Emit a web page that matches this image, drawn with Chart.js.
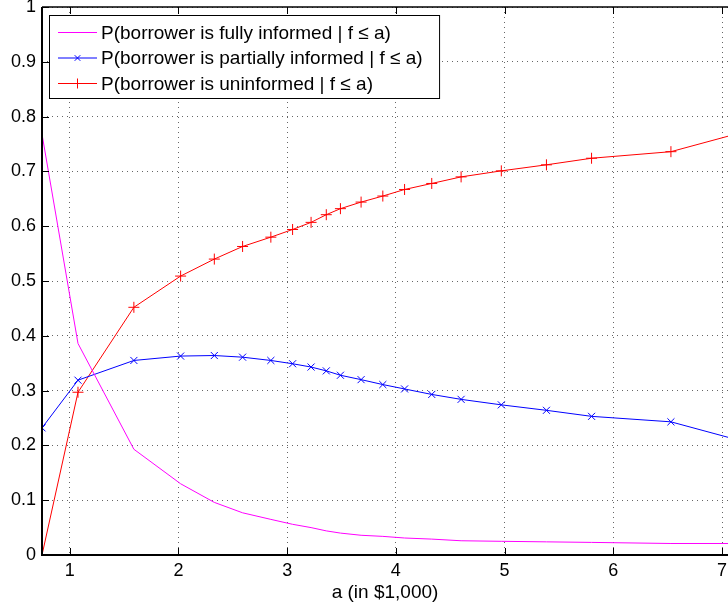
<!DOCTYPE html>
<html>
<head>
<meta charset="utf-8">
<script src="https://cdn.jsdelivr.net/npm/chart.js@4.4.0/dist/chart.umd.min.js"></script>
<style>
  html,body{margin:0;padding:0;background:#fff;}
  #wrap{width:728px;height:609px;position:relative;}
</style>
</head>
<body>
<div id="wrap"><canvas id="c"></canvas></div>
<script>
// ── data ──
const aVals   =[0.745,1.076,1.59,2.02,2.33,2.59,2.85,3.05,3.22,3.36,3.49,3.68,3.88,4.08,4.33,4.60,4.97,5.385,5.80,6.53,7.2];
const pFully  =[0.768,0.386,0.193,0.130,0.096,0.077,0.065,0.056,0.050,0.044,0.040,0.036,0.034,0.031,0.029,0.026,0.025,0.024,0.023,0.021,0.021];
const pPartial=[0.232,0.319,0.355,0.363,0.364,0.361,0.355,0.349,0.343,0.336,0.328,0.320,0.311,0.303,0.293,0.284,0.274,0.264,0.253,0.243,0.207];
const pUninf  =[0,0.297,0.452,0.509,0.540,0.563,0.580,0.594,0.607,0.621,0.632,0.644,0.655,0.667,0.678,0.690,0.701,0.712,0.724,0.736,0.772];
const xTicks  =[1,2,3,4,5,6,7];
const yTicks  =[0,0.1,0.2,0.3,0.4,0.5,0.6,0.7,0.8,0.9,1];
const labels  =['P(borrower is fully informed | f \u2264 a)','P(borrower is partially informed | f \u2264 a)','P(borrower is uninformed | f \u2264 a)'];
const xTitle  ='a (in $1,000)';

const FONT='"Liberation Sans", Arial, Helvetica, sans-serif';
const pts=ys=>aVals.map((x,i)=>({x,y:ys[i]}));

// ── MATLAB-like box, inward ticks and legend ──
const boxPlugin={
  id:'box',
  afterDraw(chart){
    const {ctx,chartArea:a,scales:{x,y}}=chart;
    ctx.save();
    ctx.strokeStyle='#000';
    ctx.lineWidth=1;
    // inward tick marks
    ctx.beginPath();
    xTicks.forEach(t=>{const px=Math.round(x.getPixelForValue(t))+0.5;
      ctx.moveTo(px,a.bottom);ctx.lineTo(px,a.bottom-7);
      ctx.moveTo(px,a.top);ctx.lineTo(px,a.top+7);});
    yTicks.forEach(t=>{const py=Math.round(y.getPixelForValue(t))+0.5;
      ctx.moveTo(a.left,py);ctx.lineTo(a.left+7,py);});
    ctx.stroke();
    // axes box
    ctx.lineWidth=2;
    ctx.beginPath();
    ctx.moveTo(a.left,a.top);ctx.lineTo(a.left,a.bottom);ctx.lineTo(a.right,a.bottom);
    ctx.stroke();
    ctx.lineWidth=1.5;
    ctx.beginPath();
    ctx.moveTo(a.left,a.top);ctx.lineTo(a.right,a.top);
    ctx.stroke();

    // legend
    ctx.font='19px '+FONT;
    const ds=chart.data.datasets;
    const tw=Math.max(...ds.map(d=>ctx.measureText(d.label).width));
    const lx=49.5,ly=15.5,lh=25.5;
    const w=(101-lx)+tw+17,h=83;
    ctx.fillStyle='#fff';ctx.fillRect(lx,ly,w,h);
    ctx.lineWidth=1;ctx.strokeStyle='#000';ctx.strokeRect(lx,ly,w,h);
    ds.forEach((d,i)=>{
      const cy=32.5+i*lh;
      ctx.strokeStyle=d.borderColor;ctx.lineWidth=1;
      ctx.beginPath();ctx.moveTo(58,cy);ctx.lineTo(97,cy);ctx.stroke();
      const r=4;
      ctx.beginPath();
      if(d.pointStyle==='crossRot'){ctx.moveTo(77.5-r*0.7,cy-r*0.7);ctx.lineTo(77.5+r*0.7,cy+r*0.7);ctx.moveTo(77.5-r*0.7,cy+r*0.7);ctx.lineTo(77.5+r*0.7,cy-r*0.7);}
      else if(d.pointStyle==='cross'){ctx.moveTo(77.5-r,cy);ctx.lineTo(77.5+r,cy);ctx.moveTo(77.5,cy-r-1);ctx.lineTo(77.5,cy+r+1);}
      ctx.stroke();
      ctx.fillStyle='#000';ctx.textBaseline='middle';ctx.textAlign='left';
      ctx.fillText(d.label,101,cy+1);
    });
    ctx.restore();
  }
};

const noPad=s=>{s.paddingLeft=0;s.paddingRight=0;s.paddingTop=0;s.paddingBottom=0;};

new Chart(document.getElementById('c'),{
  type:'line',
  data:{datasets:[
    {label:labels[0],data:pts(pFully),borderColor:'#ff00ff',borderWidth:1,pointRadius:0,pointStyle:false,fill:false,tension:0},
    {label:labels[1],data:pts(pPartial),borderColor:'#0000ff',borderWidth:1,pointStyle:'crossRot',pointRadius:5,pointBorderWidth:1,pointBorderColor:'#0000ff',fill:false,tension:0},
    {label:labels[2],data:pts(pUninf),borderColor:'#ff0000',borderWidth:1,pointStyle:'cross',pointRadius:5.5,pointBorderWidth:1,pointBorderColor:'#ff0000',fill:false,tension:0}
  ]},
  options:{
    responsive:true,maintainAspectRatio:false,animation:false,
    layout:{autoPadding:false,padding:{top:7,right:0,left:0,bottom:0}},
    plugins:{legend:{display:false},tooltip:{enabled:false}},
    scales:{
      x:{type:'linear',min:0.745,max:7.055,
        afterBuildTicks:s=>{s.ticks=xTicks.map(v=>({value:v}));},
        afterFit:s=>{s.height=54;noPad(s);},
        ticks:{color:'#000',font:{family:FONT,size:18},padding:5,maxRotation:0,autoSkip:false,callback:v=>String(v)},
        grid:{color:'#666',drawTicks:false,lineWidth:1},
        border:{display:false,dash:[1,4]},
        title:{display:true,text:xTitle,color:'#000',font:{family:FONT,size:19},padding:{top:0,bottom:5}}
      },
      y:{type:'linear',min:0,max:1,
        afterBuildTicks:s=>{s.ticks=yTicks.map(v=>({value:v}));},
        afterFit:s=>{s.width=42;noPad(s);},
        ticks:{color:'#000',font:{family:FONT,size:18},padding:6,autoSkip:false,callback:v=>String(+v.toFixed(1))},
        grid:{color:'#666',drawTicks:false,lineWidth:1},
        border:{display:false,dash:[1,4]}
      }
    }
  },
  plugins:[boxPlugin]
});
</script>
</body>
</html>
